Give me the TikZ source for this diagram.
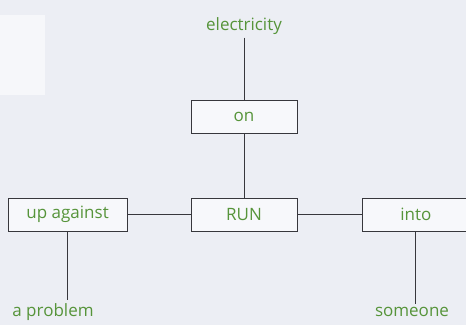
\documentclass[tikz,border=0pt]{standalone}
\usepackage{fontspec}
\setmainfont{Open Sans}
\usepackage{tikz}
\usetikzlibrary{positioning}

\definecolor{leafgreen}{RGB}{86,148,58}
\definecolor{inkgrey}{RGB}{55,55,60}
\definecolor{paper}{RGB}{236,238,244}

\begin{document}
\begin{tikzpicture}[
            x=1pt, y=-1pt,
            node distance=64pt,
            font=\fontsize{17}{20}\selectfont, % roughly the size of the scan
            link/.style={draw=inkgrey, line width=0.9pt},
            wordbox/.style={
                draw=inkgrey,
                line width=0.9pt,
                fill=white!60!paper,
                text=leafgreen,
                minimum height=33pt,
                inner sep=2pt
            },
            word/.style={
                text=leafgreen,
                inner sep=3pt
            }
        ]
        % page behind the diagram
        \fill[paper] (0,0) rectangle (466,325);
        \fill[white!55!paper] (0,15) rectangle (45,95);
        \useasboundingbox (0,0) rectangle (466,325);

        \node[wordbox, minimum width=106pt] (run) at (244,214.5) {RUN};
        \node[wordbox, minimum width=106pt] (on) [above=64pt of run] {on};
        \node[word] (electricity) [above=62pt of on] {electricity};
        \node[wordbox, minimum width=119pt] (upagainst) [left=63pt of run] {up against};
        \node[wordbox, minimum width=106pt] (into) [right=65pt of run] {into};
        \node[word] (problem) at (53,312) {a problem};
        \node[word] (someone) at (412,312) {someone};

        \draw[link] (electricity) -- (on);
        \draw[link] (on) -- (run);
        \draw[link] (upagainst) -- (run);
        \draw[link] (run) -- (into);
        \draw[link] (upagainst.south) -- (upagainst.south |- problem.north);
        \draw[link] (into.south) -- (into.south |- someone.north);
    \end{tikzpicture}
\end{document}
